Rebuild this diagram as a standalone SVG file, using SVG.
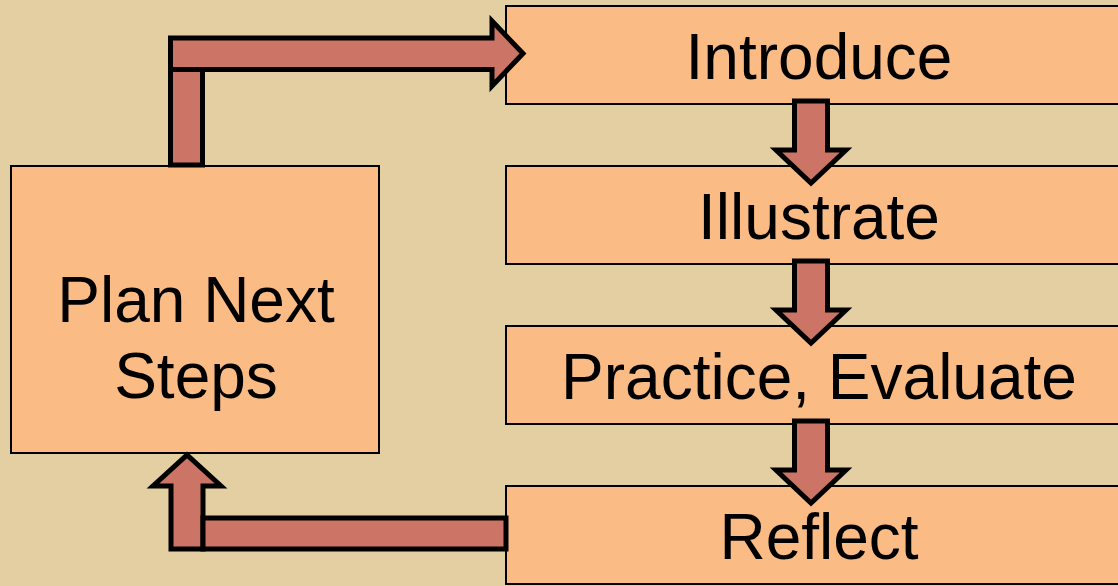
<svg xmlns="http://www.w3.org/2000/svg" width="1118" height="586" viewBox="0 0 1118 586">
<style>
.box{fill:#FBBB85;stroke:#000;stroke-width:2}
.arr{fill:#CC7566;stroke:#000;stroke-width:5;stroke-linejoin:miter;stroke-miterlimit:10}
.lbl{font-family:"Liberation Sans",Arial,sans-serif;font-size:64px;fill:#000;text-anchor:middle}
</style>
<rect x="0" y="0" width="1118" height="586" fill="#E3CFA1"/>
<g id="introduce">
<rect class="box" x="506" y="6" width="630" height="98"/>
<text class="lbl" x="819" y="79">Introduce</text>
</g>
<g id="illustrate">
<rect class="box" x="506" y="166" width="630" height="98"/>
<text class="lbl" x="819" y="239">Illustrate</text>
</g>
<g id="practice">
<rect class="box" x="506" y="326" width="630" height="98"/>
<text class="lbl" x="819" y="399">Practice, Evaluate</text>
</g>
<g id="reflect">
<rect class="box" x="506" y="486" width="630" height="98"/>
<text class="lbl" x="819" y="559">Reflect</text>
</g>
<g id="plan">
<rect class="box" x="11" y="166" width="368" height="287"/>
<text class="lbl" x="196" y="322">Plan Next</text>
<text class="lbl" x="196" y="398">Steps</text>
</g>
<g id="connectors">
<rect class="arr" x="170.5" y="69.5" width="32" height="95.5"/>
<path class="arr" d="M170.5,38 L492,38 L492,21 L523,53.5 L492,86 L492,69.5 L170.5,69.5 Z"/>
<path class="arr" d="M794.5,101 L827.5,101 L827.5,150 L846,150 L811,183 L776,150 L794.5,150 Z"/>
<path class="arr" d="M794.5,261 L827.5,261 L827.5,310 L846,310 L811,343 L776,310 L794.5,310 Z"/>
<path class="arr" d="M794.5,421 L827.5,421 L827.5,470 L846,470 L811,503 L776,470 L794.5,470 Z"/>
<path class="arr" d="M171,549 L171,486 L153,486 L187,455 L221,486 L203,486 L203,549 Z"/>
<rect class="arr" x="203" y="518" width="303" height="31"/>
</g>
</svg>
